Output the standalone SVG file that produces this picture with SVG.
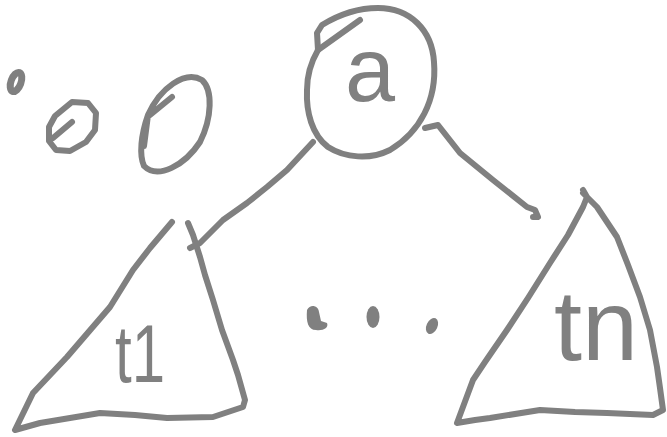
<svg xmlns="http://www.w3.org/2000/svg" width="667" height="437" viewBox="0 0 667 437">
<style>
.s{fill:none;stroke:#808080;stroke-width:6;stroke-linecap:round;stroke-linejoin:round}
.f{fill:#808080}
.t{fill:#808080;font-family:"Liberation Sans",Arial,sans-serif;text-anchor:middle}
</style>
<rect width="667" height="437" fill="#ffffff"/>
<g id="dots-left">
<ellipse class="s" cx="16" cy="82" rx="5" ry="10" transform="rotate(20 16 82)" style="stroke-width:7"/>
<path class="s" d="M72,102 L88,103 L96,113 L95,130 L86,142 L70,151 L56,150 L49,141 L49,127 L55,116 Z"/>
<path class="s" d="M72,122 L53,138"/>
<path class="s" d="M172,97 L150,115 M148,115 C141,135 139,155 144,166 C158,180 185,165 200,142 C212,118 213,90 202,80 C185,70 160,88 148,115 L144,146"/>
</g>
<g id="node-a">
<path class="s" d="M360,20 L318,50"/>
<path class="s" d="M318,50 L317,33 L322,25 C335,17 355,8 378,8 C410,8 432,30 434,62 C437,100 420,132 390,150 C370,160 345,158 328,147 C312,135 306,112 307,90 C307,75 311,62 318,50 Z"/>
<text class="t" x="370" y="101" font-size="90">a</text>
</g>
<g id="node-t1">
<path class="s" d="M172,222 L150,248 L133,270 L110,307 L67,357 L33,393 L15,430 L40,423 L70,418 L100,413 L135,415 L167,418 L213,417 L243,407 L245,400 L238,375 L233,360 L222,330 L213,300 L205,275 L200,257 L193,235 L188,223"/>
<text class="t" x="140" y="382" font-size="82" textLength="50" lengthAdjust="spacingAndGlyphs">t1</text>
</g>
<g id="node-tn">
<path class="s" d="M583,190 L587,197 L583,207 L568,235 L550,263 L528,298 L507,330 L485,362 L473,380 L457,423 L475,420 L490,418 L540,410 L575,412 L607,413 L653,415 L663,410 L660,388 L657,367 L650,330 L640,297 L628,265 L617,237 L597,207 L583,193"/>
<text class="t" x="596" y="360" font-size="100" textLength="84" lengthAdjust="spacingAndGlyphs">tn</text>
</g>
<g id="ellipsis">
<path class="f" d="M307,310 C310,304 318,305 319,312 L321,321 L327,323 C329,328 323,331 316,330 C308,330 306,322 307,310 Z"/>
<ellipse class="f" cx="373" cy="317" rx="6.5" ry="11"/>
<ellipse class="f" cx="432" cy="326" rx="5.5" ry="8.5" transform="rotate(25 432 326)"/>
</g>
<g id="connectors">
<path class="s" d="M313,142 L287,170 L267,187 L247,203 L223,220 L200,243 L190,248"/>
<path class="s" d="M425,128 L438,125 L460,153 L493,180 L527,207 L535,210 L538,217 L533,217"/>
</g>
</svg>
